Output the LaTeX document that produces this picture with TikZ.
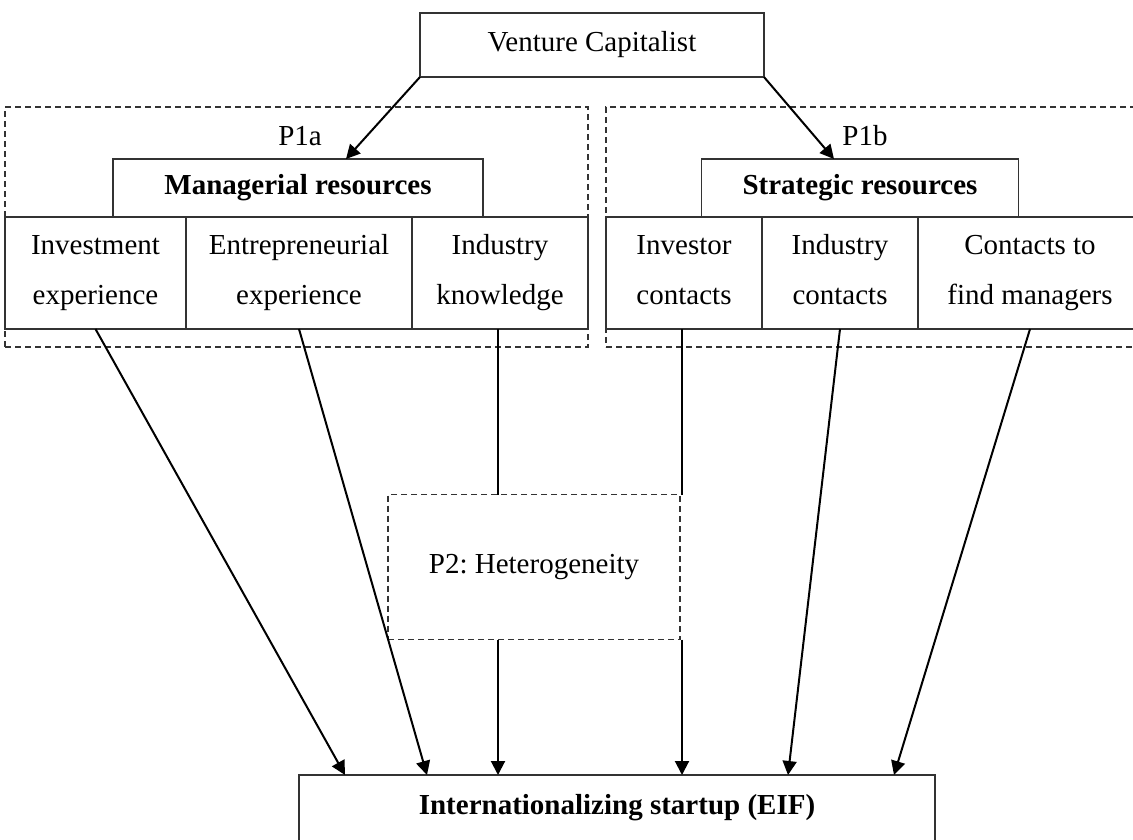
\documentclass[tikz,border=0pt]{standalone}
\usepackage{fontspec}
\setmainfont{Liberation Serif}
\usetikzlibrary{arrows.meta}

% keeps two-line cells on the same baselines
\newcommand{\cellstrut}{\vphantom{Ig}}

\begin{document}
\frenchspacing
\begin{tikzpicture}[x=1pt,y=-1pt]
  \tikzset{BoxStyle/.style = {
    shape         = rectangle,
    draw          = black!80,
    line width    = 1.2pt,
    inner sep     = 0pt,
    outer sep     = 0pt,
    align         = center,
    font          = \fontsize{29}{50}\selectfont
    }
  }
  \tikzset{GroupStyle/.style = {
    BoxStyle,
    dash pattern  = on 6pt off 4pt
    }
  }
  \tikzset{EdgeStyle/.style = {
    draw          = black,
    line width    = 2pt,
    -{Triangle[length=14pt,width=14pt]}
    }
  }
  \tikzset{LineStyle/.style = {
    draw          = black,
    line width    = 2pt
    }
  }
  \tikzset{LabelStyle/.style = {
    inner sep     = 0pt,
    font          = \fontsize{29}{50}\selectfont
    }
  }

  \useasboundingbox (0,0) rectangle (1133,839);
  \clip (0,0) rectangle (1133,839);

  % dashed groups P1a, P1b and P2
  \node[GroupStyle, minimum width=583pt, minimum height=240pt] (G1) at (296.5, 227) {};
  \node[GroupStyle, minimum width=540pt, minimum height=240pt] (G2) at (876, 227) {};
  \node[LabelStyle] (L1) at (300, 136) {P1a};
  \node[LabelStyle] (L2) at (865, 136) {P1b};

  \node[BoxStyle, minimum width=344pt, minimum height=64pt] (VC) at (592, 45) {Venture Capitalist};

  \node[BoxStyle, minimum width=370pt, minimum height=58pt] (MR) at (298, 188) {\textbf{Managerial resources}};
  \node[BoxStyle, minimum width=181pt, minimum height=112pt] (M1) at (95.5, 273) {Investment\cellstrut\\experience\cellstrut};
  \node[BoxStyle, minimum width=226pt, minimum height=112pt] (M2) at (299, 273) {Entrepreneurial\cellstrut\\experience\cellstrut};
  \node[BoxStyle, minimum width=176pt, minimum height=112pt] (M3) at (500, 273) {Industry\cellstrut\\knowledge\cellstrut};

  \node[BoxStyle, minimum width=317pt, minimum height=58pt] (SR) at (860, 188) {\textbf{Strategic resources}};
  \node[BoxStyle, minimum width=156pt, minimum height=112pt] (S1) at (684, 273) {Investor\cellstrut\\contacts\cellstrut};
  \node[BoxStyle, minimum width=156pt, minimum height=112pt] (S2) at (840, 273) {Industry\cellstrut\\contacts\cellstrut};
  \node[BoxStyle, minimum width=224pt, minimum height=112pt] (S3) at (1030, 273) {Contacts to\cellstrut\\find managers\cellstrut};

  \node[GroupStyle, minimum width=292pt, minimum height=145pt] (P2) at (534, 567) {P2: Heterogeneity};

  \node[BoxStyle, minimum width=636pt, minimum height=66pt] (EIF) at (617, 808) {\textbf{Internationalizing startup (EIF)}};

  % arrow end points on the boxes
  \coordinate (MRin) at (346, 159);
  \coordinate (SRin) at (834, 159);

  \draw[EdgeStyle] (VC.south west) to (MRin);
  \draw[EdgeStyle] (VC.south east) to (SRin);

  \draw[EdgeStyle] (M1.south) to (EIF.north -| 345, 0);
  \draw[EdgeStyle] (M2.south) to (EIF.north -| 427, 0);
  \draw[LineStyle] (M3.south -| 498, 0) to (P2.north -| 498, 0);
  \draw[EdgeStyle] (P2.south -| 498, 0) to (EIF.north -| 498, 0);
  \draw[LineStyle] (S1.south -| 682, 0) to (P2.north -| 682, 0);
  \draw[EdgeStyle] (P2.south -| 682, 0) to (EIF.north -| 682, 0);
  \draw[EdgeStyle] (S2.south) to (EIF.north -| 788, 0);
  \draw[EdgeStyle] (S3.south) to (EIF.north -| 894, 0);

\end{tikzpicture}
\end{document}
